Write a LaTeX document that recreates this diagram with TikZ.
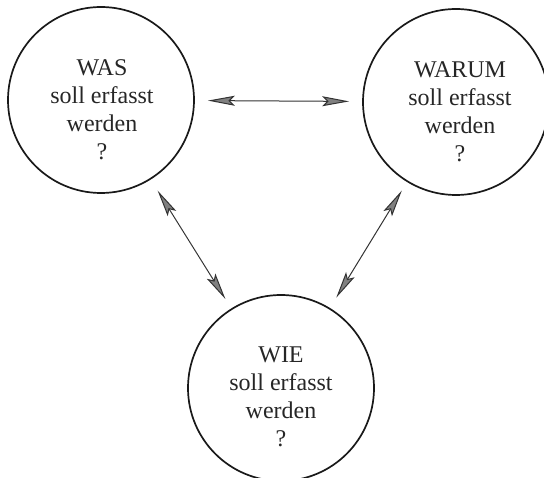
\documentclass[tikz,border=0pt]{standalone}
\usepackage{fontspec}
\setmainfont{Liberation Serif}
\newfontfamily\lblfont{Liberation Serif}
\usetikzlibrary{arrows.meta}
\begin{document}
\begin{tikzpicture}[x=1pt,y=-1pt,
  ring/.style={circle,draw=black!90,line width=1.7pt,minimum size=186pt,inner sep=0pt},
  lbl/.style={align=center,font=\lblfont\fontsize{24}{28}\selectfont,text=black!85},
  tip/.style={Stealth[length=27pt,width=10pt,inset=5pt,fill=black!50]},
  conn/.style={draw=black!80,line width=1pt,{Stealth[length=27pt,width=10pt,inset=5pt,fill=black!50]}-{Stealth[length=27pt,width=10pt,inset=5pt,fill=black!50]}}]
\useasboundingbox (0,0) rectangle (544,478);
\node[ring] (was) at (101,100) {};
\node[ring] (warum) at (456,102) {};
\node[ring] (wie) at (281,388) {};
\node[lbl] (wast) at (102,110) {WAS\\soll erfasst\\werden\\?};
\node[lbl] (warumt) at (460,112) {WARUM\\soll erfasst\\werden\\?};
\node[lbl] (wiet) at (281,397) {WIE\\soll erfasst\\werden\\?};
\draw[conn,shorten <=13pt,shorten >=13pt] (was) -- (warum);
\draw[conn,shorten <=13pt,shorten >=11pt] (was) -- (wie);
\draw[conn,shorten <=10pt,shorten >=12pt] (warum) -- (wie);
\end{tikzpicture}
\end{document}
